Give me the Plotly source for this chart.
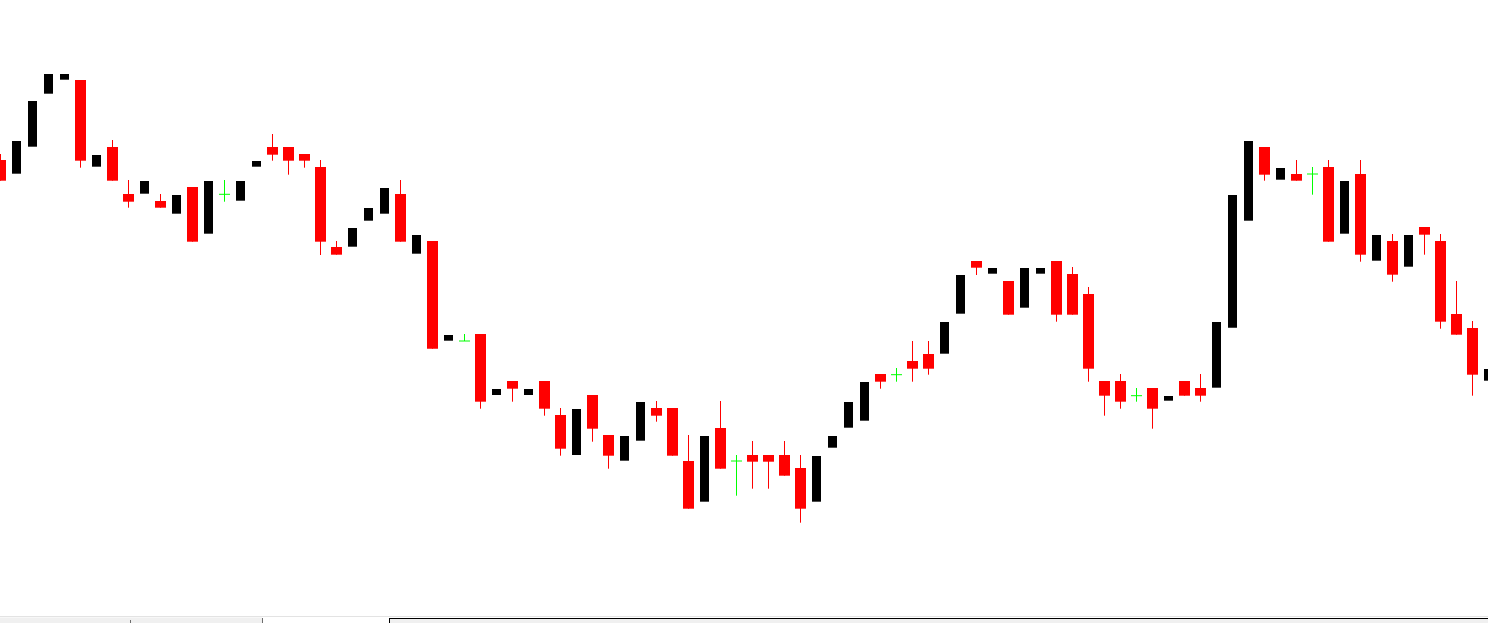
import plotly.graph_objects as go

# bar-by-bar price levels (open, high, low, close)
opens = [463, 449.3, 476.3, 529.3, 543.3, 543, 456.3, 476, 429, 429.3,
         422, 409.3, 436, 389.3, 428.7, 422.3, 456.3, 476, 476, 469,
         456, 376, 376.3, 402.3, 409.3, 429, 369.3, 382, 282.3, 282,
         289, 228, 242, 228, 242, 208, 168, 228, 188, 162.3,
         182.3, 215, 215, 162, 121.3, 195, 162, 168, 168, 168,
         155, 121.3, 175.3, 195.3, 202.3, 249, 248.3, 262, 269, 269.3,
         309.3, 362, 349.3, 342, 315.3, 349.3, 362, 349, 329, 242,
         242, 227.3, 235, 222.3, 242, 235, 235.3, 295.3, 402.3, 476,
         443.3, 449, 449, 456, 389.3, 449, 362.3, 382, 356.3, 396,
         382, 309, 295, 242.3]
highs = [469, 482, 522, 549, 549, 543, 468, 483, 443, 442,
         429, 428, 436, 442, 443, 442, 462, 489, 476, 469,
         463, 382, 395, 415, 435, 443, 388, 382, 288, 289,
         289, 234, 242, 234, 242, 215, 214, 228, 188, 187,
         221, 222, 215, 188, 187, 222, 168, 182, 168, 182,
         168, 167, 187, 221, 241, 249, 255, 282, 282, 301,
         348, 362, 355, 342, 355, 355, 362, 356, 336, 242,
         249, 235, 235, 227, 242, 249, 301, 428, 482, 476,
         455, 463, 456, 463, 442, 463, 388, 389, 388, 396,
         389, 342, 302, 254]
lows = [442.3, 449.3, 476.3, 529.3, 543.3, 455.3, 456.3, 442.3, 415.3, 429.3,
        415.3, 409.3, 381.3, 389.3, 421.3, 422.3, 456.3, 462.3, 448.3, 455.3,
        368, 368.3, 376.3, 402.3, 409.3, 381.3, 369.3, 274.3, 282.3, 282,
        214.3, 228, 221.3, 228, 207.3, 167.3, 168, 181.3, 154.3, 162.3,
        182.3, 201.3, 167.3, 114.3, 121.3, 154.3, 127.3, 134.3, 134.3, 147.3,
        100.3, 121.3, 175.3, 195.3, 202.3, 234.3, 241.3, 241.3, 248.3, 269.3,
        309.3, 348, 349.3, 308.3, 315.3, 349.3, 301.3, 308.3, 241.3, 207.3,
        214.3, 221.3, 194.3, 222.3, 227.3, 221.3, 235.3, 295.3, 402.3, 442.3,
        443.3, 442.3, 428.3, 381.3, 389.3, 361.3, 362.3, 341.3, 356.3, 368.3,
        294.3, 288.3, 227.3, 242.3]
closes = [442.3, 482, 522, 549, 549, 462.3, 468, 442.3, 421.3, 442,
          415.3, 428, 381.3, 442, 428.7, 442, 462, 468.3, 462.3, 462.3,
          381.3, 368.3, 395, 415, 435, 381.3, 388, 274.3, 288, 282,
          221.3, 234, 234.3, 234, 214.3, 174.3, 214, 194.3, 167.3, 187,
          221, 207.3, 167.3, 114.3, 187, 154.3, 162, 161.3, 161.3, 147.3,
          114.3, 167, 187, 221, 241, 241.3, 248.3, 254.3, 254.3, 301,
          348, 355.3, 355, 308.3, 355, 355, 308.3, 308.3, 254.3, 227.3,
          221.3, 227.3, 214.3, 227, 227.3, 227.3, 301, 428, 482, 448.3,
          455, 442.3, 449, 381.3, 442, 368.3, 388, 348.3, 388, 388.3,
          301.3, 288.3, 248.3, 254]

idx = list(range(len(opens)))
up = [i for i in idx if closes[i] > opens[i]]
down = [i for i in idx if closes[i] < opens[i]]
doji = [i for i in idx if closes[i] == opens[i]]


def wick_xy(ids):
    xs, ys = [], []
    for i in ids:
        xs += [i, i, None]
        ys += [lows[i], highs[i], None]
    return xs, ys


fig = go.Figure()

# bearish wicks + bodies
wx, wy = wick_xy(down)
fig.add_trace(go.Scatter(x=wx, y=wy, mode="lines", line=dict(color="#ff0000", width=1)))
fig.add_trace(go.Bar(x=down, base=[closes[i] for i in down],
                     y=[opens[i] - closes[i] for i in down],
                     width=0.6875, marker=dict(color="#ff0000", line=dict(width=0))))

# bullish bodies (wicks are not drawn on this chart)
fig.add_trace(go.Bar(x=up, base=[opens[i] for i in up],
                     y=[closes[i] - opens[i] for i in up],
                     width=0.5625, marker=dict(color="#000000", line=dict(width=0))))

# doji crosses
wx, wy = wick_xy(doji)
hx, hy = [], []
for i in doji:
    hx += [i - 0.34375, i + 0.34375, None]
    hy += [opens[i], opens[i], None]
fig.add_trace(go.Scatter(x=wx + hx, y=wy + hy, mode="lines",
                         line=dict(color="#00ff00", width=1)))

# bottom tab strip of the terminal window
H = 623.0
def py(p):
    return 1 - p / H

shapes = [
    dict(type="line", xref="paper", yref="paper", x0=0, x1=1, y0=py(616.5), y1=py(616.5),
         line=dict(color="#e3e3e3", width=1)),
    dict(type="rect", xref="paper", yref="paper", x0=0, x1=262 / 1488, y0=0, y1=py(617.5),
         fillcolor="#f0f0f0", line=dict(width=0)),
    dict(type="line", xref="paper", yref="paper", x0=262.5 / 1488, x1=262.5 / 1488, y0=0, y1=py(618),
         line=dict(color="#6e6e6e", width=1)),
    dict(type="line", xref="paper", yref="paper", x0=130.5 / 1488, x1=130.5 / 1488, y0=0, y1=py(620),
         line=dict(color="#6e6e6e", width=1)),
    dict(type="rect", xref="paper", yref="paper", x0=389 / 1488, x1=1, y0=0, y1=py(618),
         fillcolor="#f0f0f0", line=dict(width=0)),
    dict(type="line", xref="paper", yref="paper", x0=389 / 1488, x1=1, y0=py(618.5), y1=py(618.5),
         line=dict(color="#000000", width=1)),
    dict(type="line", xref="paper", yref="paper", x0=389.5 / 1488, x1=389.5 / 1488, y0=0, y1=py(618.5),
         line=dict(color="#000000", width=1)),
]

fig.update_layout(
    width=1488, height=623,
    margin=dict(l=0, r=0, t=0, b=0),
    paper_bgcolor="white", plot_bgcolor="white",
    showlegend=False, hovermode=False, barmode="overlay",
    xaxis=dict(range=[-0.03125, 92.96875], visible=False, fixedrange=True),
    yaxis=dict(range=[0, 623], visible=False, fixedrange=True),
    shapes=shapes,
)

fig.write_html("out.html", config={"displayModeBar": False},
               post_script="document.body.style.margin='0';document.body.style.overflow='hidden';")
